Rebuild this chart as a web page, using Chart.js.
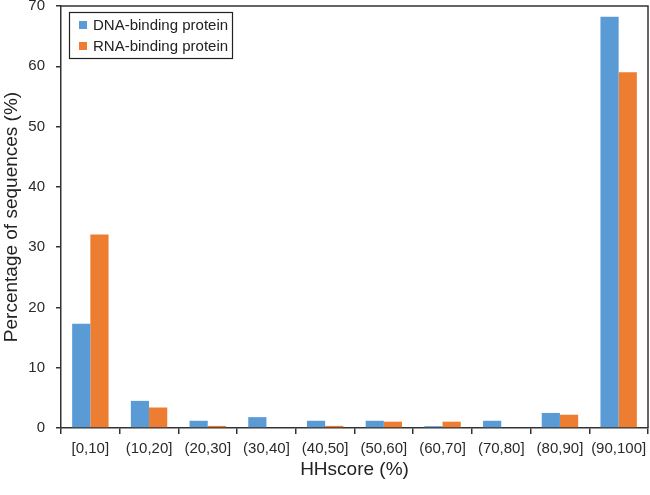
<!DOCTYPE html>
<html><head><meta charset="utf-8">
<script src="https://cdn.jsdelivr.net/npm/chart.js@4/dist/chart.umd.min.js"></script>
<style>html,body{margin:0;padding:0;background:#fff}#wrap{width:650px;height:495px}</style>
</head><body><div id="wrap"><canvas id="c" width="650" height="495"></canvas></div>
<script>
const categories = ["[0,10]","(10,20]","(20,30]","(30,40]","(40,50]","(50,60]","(60,70]","(70,80]","(80,90]","(90,100]"];
const dnaValues = [17.3, 4.5, 1.2, 1.8, 1.2, 1.2, 0.3, 1.2, 2.5, 68.2];
const rnaValues = [32.1, 3.4, 0.35, 0, 0.35, 1.05, 1.05, 0, 2.2, 59.0];
const seriesNames = ["DNA-binding protein", "RNA-binding protein"];
const yTicks = [0,10,20,30,40,50,60,70];
const colors = ["#5B9BD5", "#ED7D31"];
const FONT = "'Liberation Sans', Arial, sans-serif";

const frame = {
  id: 'frame',
  afterDraw(chart) {
    const {ctx, chartArea: a} = chart;
    ctx.save();
    ctx.strokeStyle = '#333';
    ctx.lineWidth = 1.5;
    ctx.beginPath();
    ctx.moveTo(a.left, a.top); ctx.lineTo(a.right, a.top); ctx.lineTo(a.right, a.bottom);
    ctx.stroke();
    // legend
    const lx = a.left + 8, ly = a.top + 6, lw = 163, lh = 46;
    ctx.lineWidth = 1.2;
    ctx.strokeStyle = '#222';
    ctx.strokeRect(lx + 0.5, ly + 0.5, lw, lh);
    ctx.font = "15px " + FONT;
    ctx.textBaseline = 'middle';
    seriesNames.forEach((n, i) => {
      const y = ly + 13 + i * 21;
      ctx.fillStyle = colors[i];
      ctx.fillRect(lx + 10, y - 4, 8, 8);
      ctx.fillStyle = '#222';
      ctx.fillText(n, lx + 24, y + 1);
    });
    ctx.restore();
  }
};

new Chart(document.getElementById('c'), {
  type: 'bar',
  data: {
    labels: categories,
    datasets: [
      {label: seriesNames[0], data: dnaValues, backgroundColor: colors[0], borderWidth: 0},
      {label: seriesNames[1], data: rnaValues, backgroundColor: colors[1], borderWidth: 0}
    ]
  },
  options: {
    responsive: false,
    animation: false,
    devicePixelRatio: 1,
    layout: {autoPadding: false, padding: {top: 6, right: 2, left: 0, bottom: 0}},
    datasets: {bar: {barPercentage: 1, categoryPercentage: 0.62}},
    plugins: {legend: {display: false}, tooltip: {enabled: false}},
    scales: {
      x: {
        afterFit(s) { s.height = 67; s.paddingLeft = 0; s.paddingRight = 0; s.paddingTop = 0; s.paddingBottom = 0; },
        grid: {display: true, drawOnChartArea: false, drawTicks: true, tickLength: 6, color: '#333', lineWidth: 1.5, offset: true},
        border: {display: true, color: '#333', width: 1.5},
        ticks: {color: '#2a2a2a', font: {family: FONT, size: 15}, padding: 6, maxRotation: 0, autoSkip: false},
        title: {display: true, text: 'HHscore (%)', color: '#222', font: {family: FONT, size: 19}, padding: {top: 0, bottom: 14}}
      },
      y: {
        min: 0, max: 70,
        afterFit(s) { s.width = 61; s.paddingTop = 0; s.paddingBottom = 0; s.paddingLeft = 0; s.paddingRight = 0; },
        afterBuildTicks(axis) { axis.ticks = yTicks.map(v => ({value: v})); },
        grid: {display: true, drawOnChartArea: false, drawTicks: true, tickLength: 5, color: '#333', lineWidth: 1.5},
        border: {display: true, color: '#333', width: 1.5},
        ticks: {color: '#2a2a2a', font: {family: FONT, size: 15}, padding: 11},
        title: {display: true, text: 'Percentage of sequences (%)', color: '#222', font: {family: FONT, size: 19}, padding: {top: 0, bottom: 0}}
      }
    }
  },
  plugins: [frame]
});
</script></body></html>
